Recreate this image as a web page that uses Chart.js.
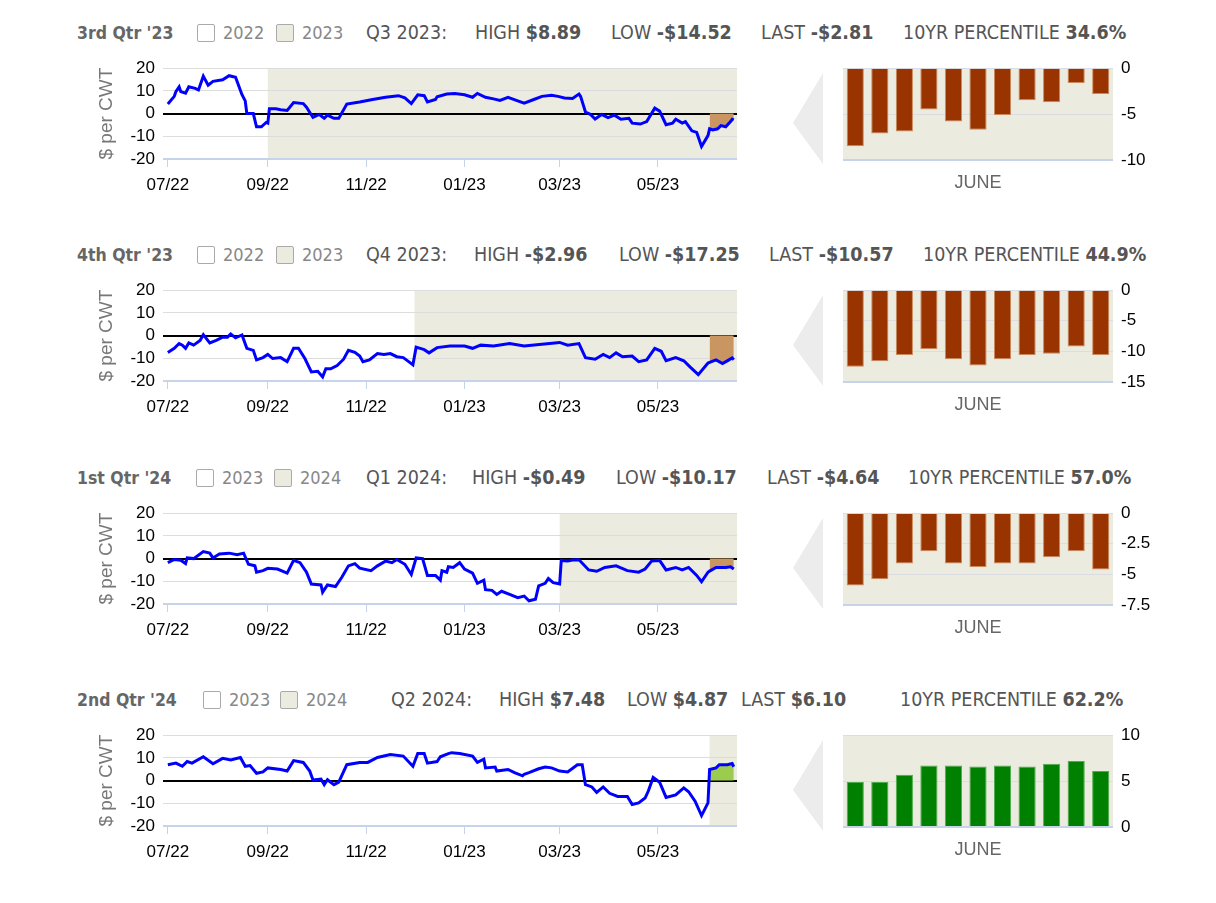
<!DOCTYPE html>
<html>
<head>
<meta charset="utf-8">
<title>Quarterly margin charts</title>
<script src="https://cdn.jsdelivr.net/npm/chart.js@4.4.0/dist/chart.umd.min.js"></script>
<style>
  body { margin: 0; background: #fff; width: 1216px; height: 903px; position: relative; overflow: hidden;
         font-family: "DejaVu Sans Condensed", "DejaVu Sans", sans-serif; }
  .hd { position: absolute; font-size: 19.5px; color: #555; white-space: nowrap; line-height: 20px; }
  .ttl { font-weight: bold; color: #666; font-size: 17.5px; }
  .yr { color: #888; font-size: 18px; }
  .box { position: absolute; width: 16px; height: 16px; border: 1px solid #aaa; border-radius: 2px; background: #fff; }
  .box.on { background: #ecebdf; }
  .arrow { position: absolute; width: 30px; height: 91px; background: #ececec;
           clip-path: polygon(100% 0, 0 55%, 100% 100%); }
  canvas { position: absolute; }
</style>
</head>
<body>
<script>
// x axis: days since 07/01/22
const monthTicks = [0, 62, 123, 184, 243, 304];
const monthLabels = ['07/22', '09/22', '11/22', '01/23', '03/23', '05/23'];
const juneDays = ['1', '2', '5', '6', '7', '8', '9', '12', '13', '14', '15'];

const quarterTitles = ["3rd Qtr '23", "4th Qtr '23", "1st Qtr '24", "2nd Qtr '24"];
const legendYears = [['2022', '2023'], ['2022', '2023'], ['2023', '2024'], ['2023', '2024']];
const contracts = ['Q3 2023:', 'Q4 2023:', 'Q1 2024:', 'Q2 2024:'];
const highs = ['$8.89', '-$2.96', '-$0.49', '$7.48'];
const lows = ['-$14.52', '-$17.25', '-$10.17', '$4.87'];
const lasts = ['-$2.81', '-$10.57', '-$4.64', '$6.10'];
const percentiles = ['34.6%', '44.9%', '57.0%', '62.2%'];
const shadeFrom = [62, 153, 243, 336];
const juneFrom = 336;

const q3Line = [[0,4.2],[4,7.6],[5,9.7],[7,11.8],[8,9.7],[11,9],[13,11.8],[17,11.1],[19,10.4],[22,16.5],[25,12.5],[28,14.2],[34,14.9],[38,16.7],[42,16],[46,8.3],[48,5.6],[49,0],[53,0],[55,-5.8],[58,-5.8],[61,-3.9],[62,-4.2],[63,2.1],[67,2.1],[70,1.7],[74,1.4],[78,4.9],[84,4.4],[86,2.8],[90,-1.7],[94,-0.4],[97,-2.1],[99,-0.7],[103,-2.1],[106,-2.1],[111,4.2],[119,5.1],[127,6.2],[135,7.2],[143,7.9],[147,6.9],[151,4.4],[155,8.3],[159,7.9],[161,5.1],[166,6.2],[167,7.4],[173,8.6],[178,8.8],[184,8.3],[189,7.2],[192,8.9],[197,7.2],[202,6.5],[206,5.8],[211,7.2],[217,5.6],[221,4.6],[227,6.2],[232,7.6],[238,8.1],[242,7.6],[246,6.9],[251,6.7],[255,8.6],[256,7.6],[259,0.7],[262,-0.3],[265,-2.4],[269,-0.4],[273,-1.8],[277,-0.7],[281,-2.5],[286,-2.1],[288,-4.2],[293,-4.6],[297,-3.5],[302,2.4],[305,1.1],[309,-4.9],[313,-4.2],[315,-2.5],[319,-4.2],[321,-3.5],[325,-7.6],[328,-8.3],[331,-14.5],[335,-9.7],[336,-6.7],[338,-7.2],[341,-6.7],[343,-5.3],[346,-5.8],[349,-3.5],[350,-2.5],[351,-2.8]];
const q4Line = [[0,-7.4],[4,-5.6],[7,-3.5],[9,-4.2],[11,-5.6],[13,-3.2],[16,-4.2],[20,-2.1],[22,0.4],[26,-3.2],[30,-2.1],[34,-0.7],[37,-0.7],[39,0.7],[42,-1],[46,0.3],[49,-5.6],[53,-6.5],[55,-10.7],[59,-9.7],[62,-8.3],[65,-10.1],[70,-9.7],[74,-11.5],[78,-5.6],[81,-5.6],[85,-10.1],[89,-16],[93,-15.7],[96,-18.2],[98,-14.6],[101,-14.6],[105,-13.2],[109,-10.4],[112,-6.5],[116,-7.4],[119,-9],[121,-11.5],[125,-10.7],[130,-7.9],[134,-8.3],[138,-7.9],[142,-9.3],[146,-9.7],[150,-11.8],[152,-12.9],[154,-5.1],[159,-6.2],[162,-7.6],[167,-5.3],[175,-4.6],[184,-4.6],[189,-5.6],[194,-4.2],[202,-4.6],[212,-3.5],[221,-4.6],[232,-3.8],[243,-3.0],[248,-4.2],[255,-3.5],[259,-9.7],[265,-10.4],[270,-8.3],[274,-9.7],[278,-7.6],[282,-9.3],[288,-9],[292,-11.5],[297,-10.7],[302,-5.6],[306,-6.9],[309,-11.1],[315,-9.7],[320,-11.1],[324,-13.9],[329,-17.2],[335,-12.1],[336,-11.8],[340,-10.7],[344,-12.3],[348,-10.7],[350,-9.8],[351,-10.6]];
const q1Line = [[0,-1.8],[4,-0.4],[8,-0.7],[11,-2.2],[12,0.3],[16,0],[22,3.1],[26,2.4],[28,0.3],[32,2],[38,2.4],[43,1.7],[47,2.4],[50,-2.5],[54,-3.2],[55,-6],[59,-5.3],[62,-4.3],[68,-4.6],[74,-6.4],[78,-0.8],[82,-1.8],[86,-6],[89,-11.2],[95,-11.6],[96,-14.8],[99,-11.6],[104,-12.3],[108,-8.1],[112,-3.2],[116,-2.2],[119,-4.2],[126,-5.3],[130,-3.2],[135,-1.1],[139,-1.8],[142,-0.4],[147,-2.5],[151,-7],[154,0.3],[158,0],[161,-7.4],[166,-7.4],[169,-9.5],[170,-5.3],[173,-6],[174,-3.6],[177,-3.9],[181,-1.8],[184,-4.6],[189,-6.4],[192,-10.9],[196,-9.5],[197,-13.7],[201,-14],[204,-15.8],[207,-14.4],[212,-15.8],[217,-17.2],[221,-16.5],[224,-18.6],[228,-17.9],[230,-12],[234,-10.9],[236,-8.8],[239,-10.6],[243,-11.2],[244,-0.8],[248,-1.1],[251,-0.6],[255,-0.5],[261,-5],[266,-5.6],[271,-3.9],[278,-3.2],[285,-5.3],[292,-6],[296,-4.6],[300,-1.1],[305,-0.8],[309,-5],[315,-3.9],[319,-5],[323,-3.9],[328,-7.4],[331,-10.2],[335,-6],[336,-5.5],[340,-3.9],[346,-3.9],[349,-3.6],[351,-4.6]];
const q2Line = [[0,7],[5,7.7],[9,6.3],[12,8.4],[15,7.7],[22,10.5],[28,7.4],[34,9.8],[39,9.1],[45,10.2],[48,6.3],[51,6.6],[55,3.2],[59,3.8],[62,5.6],[70,4.9],[74,4.2],[78,8.8],[84,8],[88,4.2],[90,0.3],[95,0.7],[97,-1.8],[99,0.4],[103,-1.8],[106,-0.7],[111,7],[119,8],[124,8],[130,10.2],[138,11.5],[146,10.8],[152,6.3],[155,11.9],[159,11.9],[161,7.7],[167,8.4],[169,10.5],[174,11.9],[176,12.3],[181,11.9],[189,10.8],[192,8],[196,9.4],[197,5.6],[203,6],[204,4.2],[211,4.9],[215,3.5],[220,2.1],[221,2.8],[224,3.5],[230,5.2],[234,6],[238,5.6],[243,4.2],[248,3.8],[254,7],[257,7],[259,-1.8],[263,-2.8],[266,-5.2],[270,-2.8],[274,-5.6],[279,-7],[285,-7],[288,-10.5],[292,-9.8],[296,-7.7],[298,-4.6],[301,1.4],[305,-0.7],[309,-7.4],[315,-6.3],[320,-3.2],[323,-4.9],[327,-9.1],[331,-15.4],[335,-9.8],[336,4.9],[340,5.6],[342,7],[347,7],[350,7.5],[351,6.1]];

const q3Bars = [-8.5, -7.1, -6.9, -4.5, -5.8, -6.7, -5.1, -3.5, -3.7, -1.6, -2.8];
const q4Bars = [-12.5, -11.6, -10.6, -9.6, -11.3, -12.3, -11.3, -10.6, -10.4, -9.2, -10.6];
const q1Bars = [-5.9, -5.4, -4.1, -3.1, -4.1, -4.4, -4.1, -4.1, -3.6, -3.1, -4.6];
const q2Bars = [4.9, 4.9, 5.7, 6.7, 6.7, 6.6, 6.7, 6.6, 6.9, 7.2, 6.1];

const barMin = [-10, -15, -7.5, 0];
const barMax = [0, 0, 0, 10];
const barStep = [5, 5, 2.5, 5];

const lines = [q3Line, q4Line, q1Line, q2Line];
const bars = [q3Bars, q4Bars, q1Bars, q2Bars];

// layout
const rowTop = [50, 272, 495, 717];
const hdX = [
  [77, 197, 223, 276, 302, 366, 475, 611, 761, 903],
  [77, 197, 223, 276, 302, 366, 474, 619, 769, 923],
  [77, 196, 222, 274, 300, 366, 472, 616, 767, 908],
  [77, 203, 229, 280, 306, 391, 499, 627, 741, 900]
];
const BEIGE = '#ecebdf';
const TICKFONT = { family: '"Liberation Sans", Arial, sans-serif', size: 17 };

function el(tag, cls, css, html) {
  const e = document.createElement(tag);
  if (cls) e.className = cls;
  Object.assign(e.style, css);
  if (html != null) e.innerHTML = html;
  document.body.appendChild(e);
  return e;
}

function shade(from) {
  return {
    id: 'shade',
    beforeDraw(chart) {
      const { ctx, chartArea: a, scales } = chart;
      const x0 = from == null ? a.left : scales.x.getPixelForValue(from);
      ctx.save();
      ctx.fillStyle = BEIGE;
      ctx.fillRect(x0, a.top, a.right - x0, a.bottom - a.top);
      ctx.restore();
    }
  };
}

function header(i) {
  const t = rowTop[i] - 27, x = hdX[i];
  el('div', 'hd ttl', { left: x[0] + 'px', top: t + 'px' }, quarterTitles[i]);
  el('div', 'box', { left: x[1] + 'px', top: (t + 1) + 'px' });
  el('div', 'hd yr', { left: x[2] + 'px', top: t + 'px' }, legendYears[i][0]);
  el('div', 'box on', { left: x[3] + 'px', top: (t + 1) + 'px' });
  el('div', 'hd yr', { left: x[4] + 'px', top: t + 'px' }, legendYears[i][1]);
  el('div', 'hd', { left: x[5] + 'px', top: t + 'px' }, contracts[i]);
  el('div', 'hd', { left: x[6] + 'px', top: t + 'px' }, 'HIGH <b>' + highs[i] + '</b>');
  el('div', 'hd', { left: x[7] + 'px', top: t + 'px' }, 'LOW <b>' + lows[i] + '</b>');
  el('div', 'hd', { left: x[8] + 'px', top: t + 'px' }, 'LAST <b>' + lasts[i] + '</b>');
  el('div', 'hd', { left: x[9] + 'px', top: t + 'px' }, '10YR PERCENTILE <b>' + percentiles[i] + '</b>');
}

function lineChart(i) {
  const cv = el('canvas', null, { left: '90px', top: rowTop[i] + 'px' });
  cv.width = 660; cv.height = 150;
  const pts = lines[i];
  const up = bars[i][bars[i].length - 1] >= 0;
  new Chart(cv, {
    type: 'line',
    data: {
      datasets: [
        { data: pts.map(p => ({ x: p[0], y: p[1] })), borderColor: '#0000ff', borderWidth: 3,
          pointRadius: 0, tension: 0, fill: false },
        { data: pts.filter(p => p[0] >= juneFrom).map(p => ({ x: p[0], y: p[1] })),
          borderWidth: 0, pointRadius: 0, backgroundColor: up ? '#9bcc4f' : '#c99661', fill: 'origin' }
      ]
    },
    options: {
      responsive: false, animation: false,
      layout: { padding: { top: 12, right: 13, left: 0, bottom: 0 } },
      plugins: { legend: { display: false }, tooltip: { enabled: false } },
      scales: {
        x: {
          type: 'linear', min: -3, max: 353,
          afterBuildTicks: s => { s.ticks = monthTicks.map(v => ({ value: v })); },
          afterFit: s => { s.height = 41; },
          ticks: { autoSkip: false, maxRotation: 0, color: '#000', font: TICKFONT, padding: 8,
                   callback: (v, k) => monthLabels[k] },
          grid: { drawOnChartArea: false, tickLength: 8, color: '#c6d3ea' },
          border: { display: false }
        },
        y: {
          min: -20, max: 20,
          afterFit: s => { s.width = 73; },
          ticks: { stepSize: 10, autoSkip: false, color: '#000', font: TICKFONT, padding: 8 },
          grid: {
            drawTicks: false,
            color: c => c.tick.value === 0 ? '#000' : (c.tick.value === -20 ? '#c6d3ea' : '#dddddd'),
            lineWidth: c => (c.tick.value === 0 || c.tick.value === -20) ? 2 : 1
          },
          border: { display: false },
          title: { display: true, text: '$ per CWT', color: '#777',
                   font: { family: '"Liberation Sans", Arial, sans-serif', size: 19 },
                   padding: { top: 5, bottom: 0 } }
        }
      }
    },
    plugins: [shade(shadeFrom[i])]
  });
}

function barChart(i) {
  el('div', 'arrow', { left: '793px', top: (rowTop[i] + 23) + 'px' });
  const cv = el('canvas', null, { left: '835px', top: rowTop[i] + 'px' });
  cv.width = 340; cv.height = 150;
  const up = barMin[i] >= 0;
  new Chart(cv, {
    type: 'bar',
    data: {
      labels: juneDays,
      datasets: [{ data: bars[i], backgroundColor: up ? '#008000' : '#993300',
                   borderColor: up ? '#4dad4d' : '#cc8a5c', borderWidth: 1,
                   barPercentage: 0.7, categoryPercentage: 1 }]
    },
    options: {
      responsive: false, animation: false,
      layout: { padding: { left: 8, top: 11, right: 0, bottom: 0 } },
      plugins: { legend: { display: false }, tooltip: { enabled: false } },
      scales: {
        x: {
          ticks: { display: false }, grid: { display: false }, border: { display: false },
          afterFit: s => { s.height = 40; },
          title: { display: true, text: 'JUNE', color: '#666',
                   font: { family: '"Liberation Sans", Arial, sans-serif', size: 18 },
                   padding: { top: 0, bottom: 6 } }
        },
        y: {
          position: 'right', min: barMin[i], max: barMax[i],
          afterFit: s => { s.width = 62; },
          ticks: { stepSize: barStep[i], autoSkip: false, color: '#000', font: TICKFONT, padding: 8 },
          grid: { drawTicks: false,
                  color: c => c.index === 0 ? '#c6d3ea' : '#dcdde3',
                  lineWidth: c => c.index === 0 ? 2 : 1 },
          border: { display: false }
        }
      }
    },
    plugins: [shade(null)]
  });
}

for (let i = 0; i < 4; i++) {
  header(i);
  lineChart(i);
  barChart(i);
}
</script>
</body>
</html>
